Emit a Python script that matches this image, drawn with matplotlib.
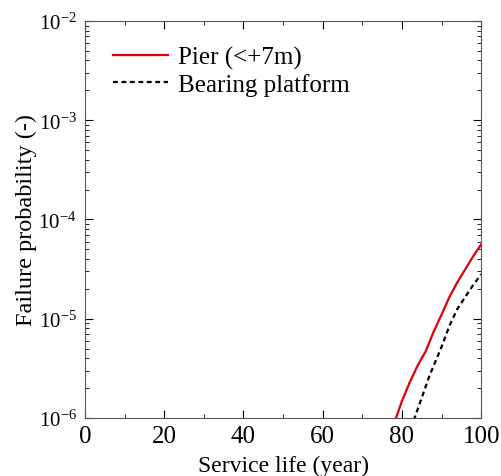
import numpy as np
import matplotlib.pyplot as plt
from matplotlib.ticker import MultipleLocator, LogLocator, NullFormatter

plt.rcParams['font.family'] = 'Liberation Serif'
plt.rcParams['mathtext.fontset'] = 'custom'
plt.rcParams['mathtext.rm'] = 'Liberation Serif'

# Pier (<+7m)
pier_x = [78.5, 80, 82, 84, 86, 88, 90, 92, 94, 96, 98, 100]
pier_p = [1.0e-6, 1.48e-6, 2.3e-6, 3.4e-6, 4.7e-6, 7.4e-6, 1.1e-5, 1.66e-5,
          2.34e-5, 3.16e-5, 4.27e-5, 5.6e-5]

# Bearing platform
plat_x = [83, 85, 87, 90, 92, 94, 96, 98, 100]
plat_p = [9.5e-7, 1.6e-6, 2.7e-6, 5.2e-6, 8.5e-6, 1.26e-5, 1.66e-5, 2.19e-5, 2.8e-5]

fig = plt.figure(figsize=(5.01, 4.77), dpi=100)
ax = fig.add_axes([0.1697, 0.1216, 0.7907, 0.8323])

ax.plot(pier_x, pier_p, color='#e00000', lw=1.6, label='Pier (<+7m)')
ax.plot(plat_x, plat_p, color='black', lw=1.6, ls=(0, (2.2, 1.6)), label='Bearing platform')

ax.set_yscale('log')
ax.set_xlim(0, 100)
ax.set_ylim(1e-6, 1e-2)
ax.xaxis.set_major_locator(MultipleLocator(20))
ax.xaxis.set_minor_locator(MultipleLocator(10))
ax.yaxis.set_minor_locator(LogLocator(base=10, subs=np.arange(2, 10)))
ax.yaxis.set_minor_formatter(NullFormatter())
ax.tick_params(which='both', direction='in', top=True, right=True)
ax.tick_params(which='major', length=6)
ax.tick_params(which='minor', length=3)
ax.tick_params(axis='x', pad=5, labelsize=18)
ax.tick_params(axis='y', pad=6, labelsize=15)
for s in ax.spines.values():
    s.set_color('#555555')

ax.set_xlabel('Service life (year)', fontsize=17, labelpad=6)
ax.set_ylabel('Failure probability (-)', fontsize=17.5, labelpad=1)
ax.legend(loc='upper left', bbox_to_anchor=(0.008, 1.0), frameon=False, fontsize=18,
          handlelength=2.2, handletextpad=0.4, borderaxespad=0.6, labelspacing=0.15)

fig.savefig('out.png', dpi=100)
